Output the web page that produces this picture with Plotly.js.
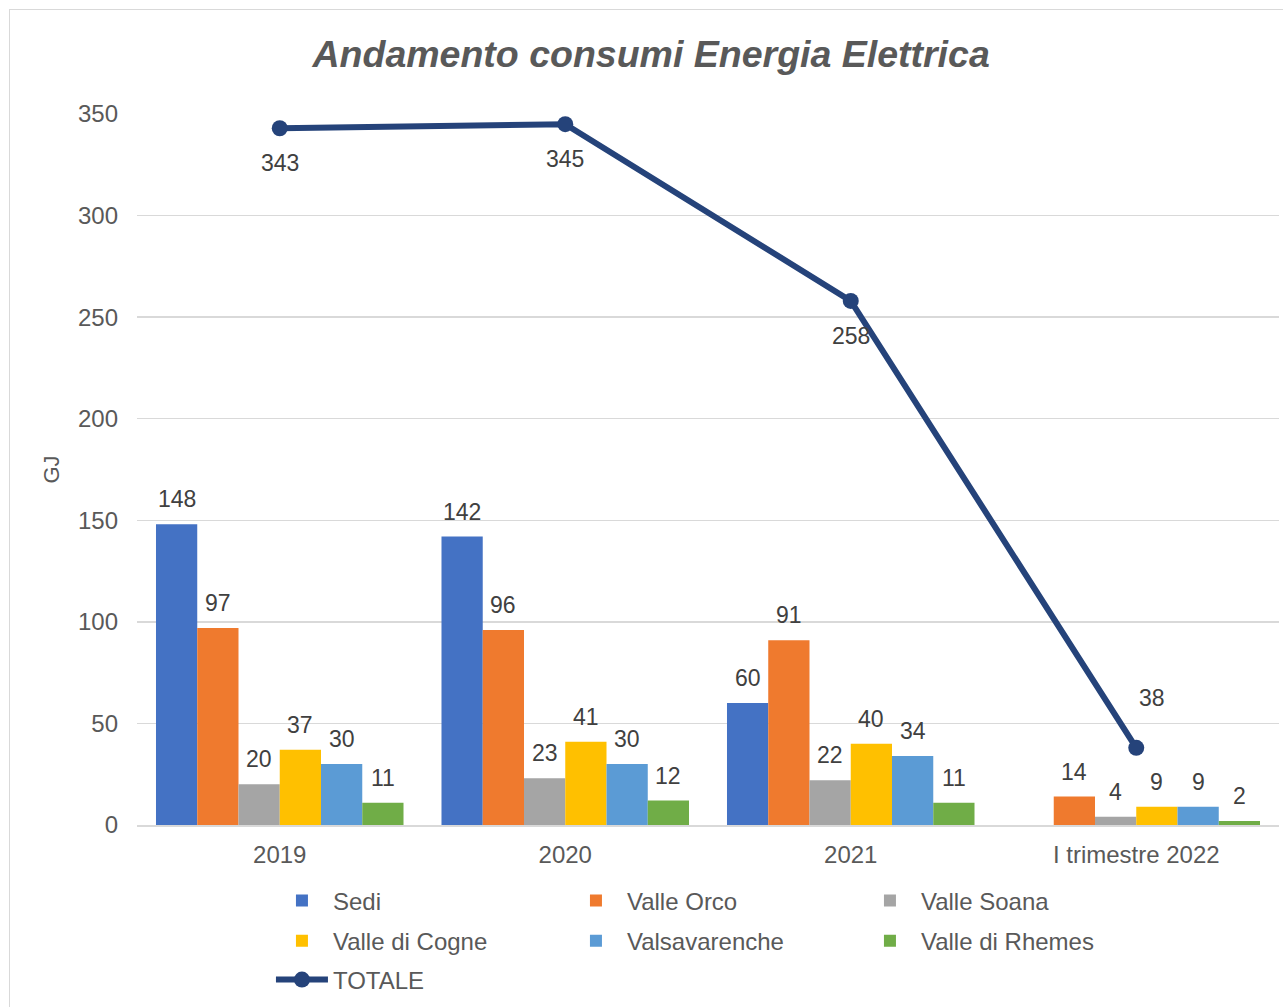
<!DOCTYPE html>
<html>
<head>
<meta charset="utf-8">
<script src="https://cdn.plot.ly/plotly-3.0.1.min.js"></script>
<style>
  html, body { margin: 0; padding: 0; background: #ffffff; overflow: hidden; }
  #frame { position: absolute; left: 9px; top: 9px; width: 1290px; height: 1010px; border: 1.5px solid #d9d9d9; }
  #chart { width: 1290px; height: 1010px; }
</style>
</head>
<body>
<div id="frame"><div id="chart"></div></div>
<script>
// ---- data ----
const categories = ["2019", "2020", "2021", "I trimestre 2022"];
const sedi = [148, 142, 60, null];
const valleOrco = [97, 96, 91, 14];
const valleSoana = [20, 23, 22, 4];
const valleDiCogne = [37, 41, 40, 9];
const valsavarenche = [30, 30, 34, 9];
const valleDiRhemes = [11, 12, 11, 2];
const totale = [343, 345, 258, 38];
const seriesNames = ["Sedi", "Valle Orco", "Valle Soana", "Valle di Cogne", "Valsavarenche", "Valle di Rhemes"];

// ---- styles ----
const seriesColors = ["#4472C4", "#EF7A2E", "#A5A5A5", "#FFC000", "#5B9BD5", "#70AD47"];
const seriesLegend = ["legend", "legend", "legend", "legend2", "legend2", "legend2"];
const lineColor = "#25437A";
const totaleLabelShift = [[0, -35], [0, -35], [0, -35], [16, 50]];
const bargap = 0.133;
const FONT = "Liberation Sans, Arial, sans-serif";
const labelFont = { family: FONT, size: 23, color: "#404040" };

const seriesValues = [sedi, valleOrco, valleSoana, valleDiCogne, valsavarenche, valleDiRhemes];
const xIdx = categories.map((c, i) => i);

const traces = seriesValues.map((vals, s) => ({
  type: "bar",
  name: seriesNames[s],
  legend: seriesLegend[s],
  x: xIdx,
  y: vals,
  marker: { color: seriesColors[s], line: { width: 0 } },
  hoverinfo: "skip"
}));

traces.push({
  type: "scatter",
  mode: "lines+markers",
  name: "TOTALE",
  legend: "legend3",
  x: xIdx,
  y: totale,
  line: { color: lineColor, width: 6 },
  marker: { color: lineColor, size: 16 },
  hoverinfo: "skip"
});

const annotations = [];
const nS = seriesValues.length;
const barW = (1 - bargap) / nS;
seriesValues.forEach((vals, s) => {
  vals.forEach((v, i) => {
    if (v === null) return;
    annotations.push({
      x: i - (1 - bargap) / 2 + (s + 0.5) * barW,
      y: v, xref: "x", yref: "y",
      text: String(v), showarrow: false,
      yanchor: "middle", yshift: 25,
      font: labelFont
    });
  });
});
totale.forEach((v, i) => {
  annotations.push({
    x: i, y: v, xref: "x", yref: "y",
    text: String(v), showarrow: false,
    yanchor: "middle", xshift: totaleLabelShift[i][0], yshift: totaleLabelShift[i][1],
    font: labelFont
  });
});

function legendRow(y) {
  return {
    orientation: "h",
    x: 0.1173, xanchor: "left",
    y: y, yanchor: "middle",
    entrywidth: 227,
    entrywidthmode: "pixels",
    itemwidth: 52,
    font: { family: FONT, size: 24, color: "#595959" },
    traceorder: "normal",
    bgcolor: "rgba(0,0,0,0)"
  };
}

const layout = {
  width: 1290,
  height: 1010,
  margin: { l: 127, r: 21, t: 104, b: 195 },
  paper_bgcolor: "#ffffff",
  plot_bgcolor: "#ffffff",
  font: { family: FONT, size: 22, color: "#595959" },
  title: {
    text: "<b><i>Andamento consumi Energia Elettrica</i></b>",
    font: { family: FONT, size: 37.5, color: "#595959" },
    xref: "container", x: 0.497, xanchor: "center",
    yref: "container", y: 0.957, yanchor: "middle"
  },
  barmode: "group",
  bargap: bargap,
  bargroupgap: 0,
  xaxis: {
    type: "linear",
    range: [-0.5, 3.5],
    tickmode: "array",
    tickvals: xIdx,
    ticktext: categories,
    showgrid: false,
    zeroline: false,
    showline: true,
    linecolor: "#d9d9d9",
    linewidth: 1.5,
    ticks: "",
    ticklabelstandoff: 8,
    tickfont: { family: FONT, size: 24, color: "#595959" },
    fixedrange: true
  },
  yaxis: {
    range: [0, 350],
    tickvals: [0, 50, 100, 150, 200, 250, 300, 350],
    showgrid: true,
    gridcolor: "#d9d9d9",
    gridwidth: 1.5,
    zeroline: false,
    showline: false,
    ticks: "",
    ticklabelstandoff: 18,
    tickfont: { family: FONT, size: 24, color: "#595959" },
    title: { text: "GJ", font: { family: FONT, size: 22, color: "#595959" }, standoff: 12 },
    fixedrange: true
  },
  legend: legendRow(-0.1069),
  legend2: legendRow(-0.1632),
  legend3: legendRow(-0.2180),
  annotations: annotations,
  showlegend: true
};

Plotly.newPlot("chart", traces, layout, { displayModeBar: false, staticPlot: true });
</script>
</body>
</html>
